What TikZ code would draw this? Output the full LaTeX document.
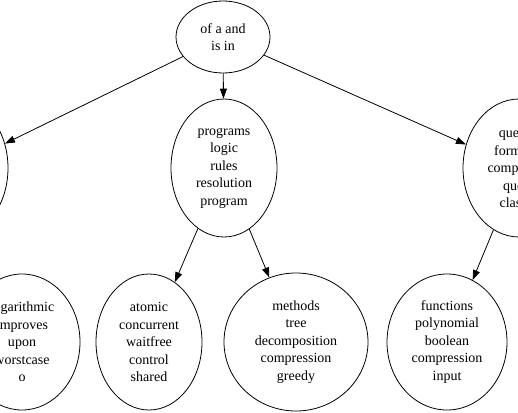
\documentclass[tikz,border=0pt]{standalone}
\usepackage{fontspec}
\setmainfont{Liberation Serif}
\usetikzlibrary{arrows.meta,shapes.geometric}

\begin{document}
\begin{tikzpicture}[
    x=1pt, y=1pt,
    font=\fontsize{14}{17.5}\selectfont,
    topic/.style={ellipse, draw=black, line width=0.8pt, align=center, inner sep=0pt},
    arrow/.style={-{Triangle[length=10pt,width=7pt]}, draw=black, line width=0.8pt}
]
\useasboundingbox (0,0) rectangle (518,-412);
\clip (0,0) rectangle (518,-412);

% top level
\node[topic, minimum width=94pt, minimum height=72pt] (root) at (223,-37) {of a and\\is in};

% second level
\node[topic, minimum width=106pt, minimum height=138pt] (left) at (-45,-168) {};
\node[topic, minimum width=106pt, minimum height=138pt] (mid) at (224,-168)
    {programs\\logic\\rules\\resolution\\program};
\node[topic, minimum width=112pt, minimum height=138pt] (right) at (519,-168)
    {queries\\formulas\\complexity\\query\\classes};

% third level
\node[topic, minimum width=116pt, minimum height=136pt] (logn) at (22,-342)
    {logarithmic\\improves\\upon\\worstcase\\o};
\node[topic, minimum width=106pt, minimum height=136pt] (atomic) at (149,-342)
    {atomic\\concurrent\\waitfree\\control\\shared};
\node[topic, minimum width=144pt, minimum height=138pt] (methods) at (296,-342)
    {methods\\tree\\decomposition\\compression\\greedy};
\node[topic, minimum width=120pt, minimum height=136pt] (funcs) at (447,-342)
    {functions\\polynomial\\boolean\\compression\\input};

\draw[arrow] (root) -- (left);
\draw[arrow] (root) -- (mid);
\draw[arrow] (root) -- (right);
\draw[arrow] (left) -- (logn);
\draw[arrow] (mid) -- (atomic);
\draw[arrow] (mid) -- (methods);
\draw[arrow] (right) -- (funcs);

\end{tikzpicture}
\end{document}
